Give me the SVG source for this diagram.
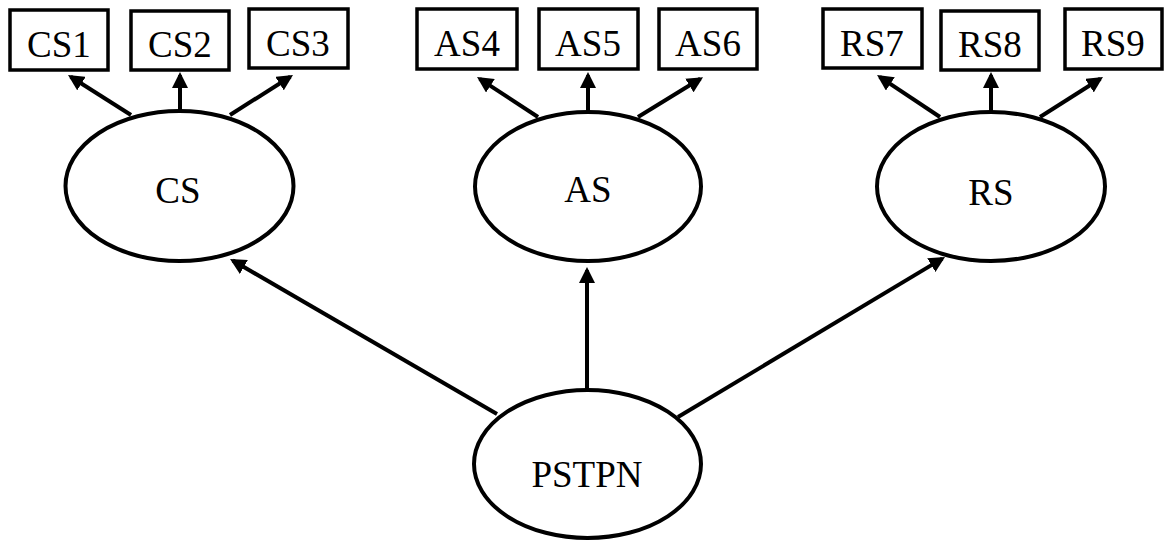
<svg xmlns="http://www.w3.org/2000/svg" width="1165" height="542" viewBox="0 0 1165 542">
  <style>
    .box { fill: #fff; stroke: #000; stroke-width: 3.5; }
    .ell { fill: #fff; stroke: #000; stroke-width: 4; }
    .lbl { font-family: "Liberation Serif", "Times New Roman", serif; fill: #000; text-anchor: middle; font-size: 37px; }
    .edge { stroke: #000; stroke-width: 4; fill: none; marker-end: url(#arrow); }
  </style>
  <defs>
    <marker id="arrow" markerWidth="4" markerHeight="4" refX="3.2" refY="2" orient="auto" markerUnits="strokeWidth">
      <path d="M0,0 L4,2 L0,4 Z" fill="#000"/>
    </marker>
  </defs>
  <rect width="1165" height="542" fill="#fff"/>

  <g id="CS1"><rect class="box" x="10" y="10" width="98" height="60"/><text class="lbl" x="59" y="57">CS1</text></g>
  <g id="CS2"><rect class="box" x="131" y="11" width="98" height="59"/><text class="lbl" x="180" y="57">CS2</text></g>
  <g id="CS3"><rect class="box" x="249" y="9" width="99" height="59"/><text class="lbl" x="298" y="56">CS3</text></g>
  <g id="AS4"><rect class="box" x="417" y="9" width="100" height="60"/><text class="lbl" x="467" y="56">AS4</text></g>
  <g id="AS5"><rect class="box" x="539" y="9" width="99" height="60"/><text class="lbl" x="588" y="56">AS5</text></g>
  <g id="AS6"><rect class="box" x="659" y="9" width="98" height="60"/><text class="lbl" x="708" y="56">AS6</text></g>
  <g id="RS7"><rect class="box" x="823" y="9" width="99" height="59"/><text class="lbl" x="872" y="56">RS7</text></g>
  <g id="RS8"><rect class="box" x="941" y="11" width="98" height="59"/><text class="lbl" x="990" y="57">RS8</text></g>
  <g id="RS9"><rect class="box" x="1065" y="9" width="97" height="60"/><text class="lbl" x="1113" y="56">RS9</text></g>

  <g id="CS"><ellipse class="ell" cx="179.5" cy="186" rx="114" ry="75"/><text class="lbl" x="178" y="203">CS</text></g>
  <g id="AS"><ellipse class="ell" cx="588" cy="186.5" rx="113" ry="74.5"/><text class="lbl" x="588" y="202">AS</text></g>
  <g id="RS"><ellipse class="ell" cx="991" cy="186.5" rx="114" ry="74.5"/><text class="lbl" x="991" y="205">RS</text></g>
  <g id="PSTPN"><ellipse class="ell" cx="587.5" cy="464" rx="113.5" ry="74"/><text class="lbl" x="587" y="487">PSTPN</text></g>

  <g id="connectors">
    <line class="edge" x1="131" y1="115" x2="70.7" y2="76.7"/>
    <line class="edge" x1="180" y1="110" x2="180" y2="75.2"/>
    <line class="edge" x1="230" y1="115" x2="290.3" y2="76.7"/>
    <line class="edge" x1="538" y1="117" x2="479.7" y2="78.8"/>
    <line class="edge" x1="588" y1="112" x2="588" y2="75.2"/>
    <line class="edge" x1="638" y1="117" x2="700.3" y2="78.8"/>
    <line class="edge" x1="940" y1="117" x2="879.7" y2="76.8"/>
    <line class="edge" x1="991" y1="112" x2="991" y2="75.2"/>
    <line class="edge" x1="1040" y1="117" x2="1100.3" y2="78.8"/>
    <line class="edge" x1="497" y1="414" x2="232.8" y2="260.6"/>
    <line class="edge" x1="587" y1="390" x2="587" y2="270.2"/>
    <line class="edge" x1="678" y1="417" x2="942.3" y2="258.6"/>
  </g>
</svg>
